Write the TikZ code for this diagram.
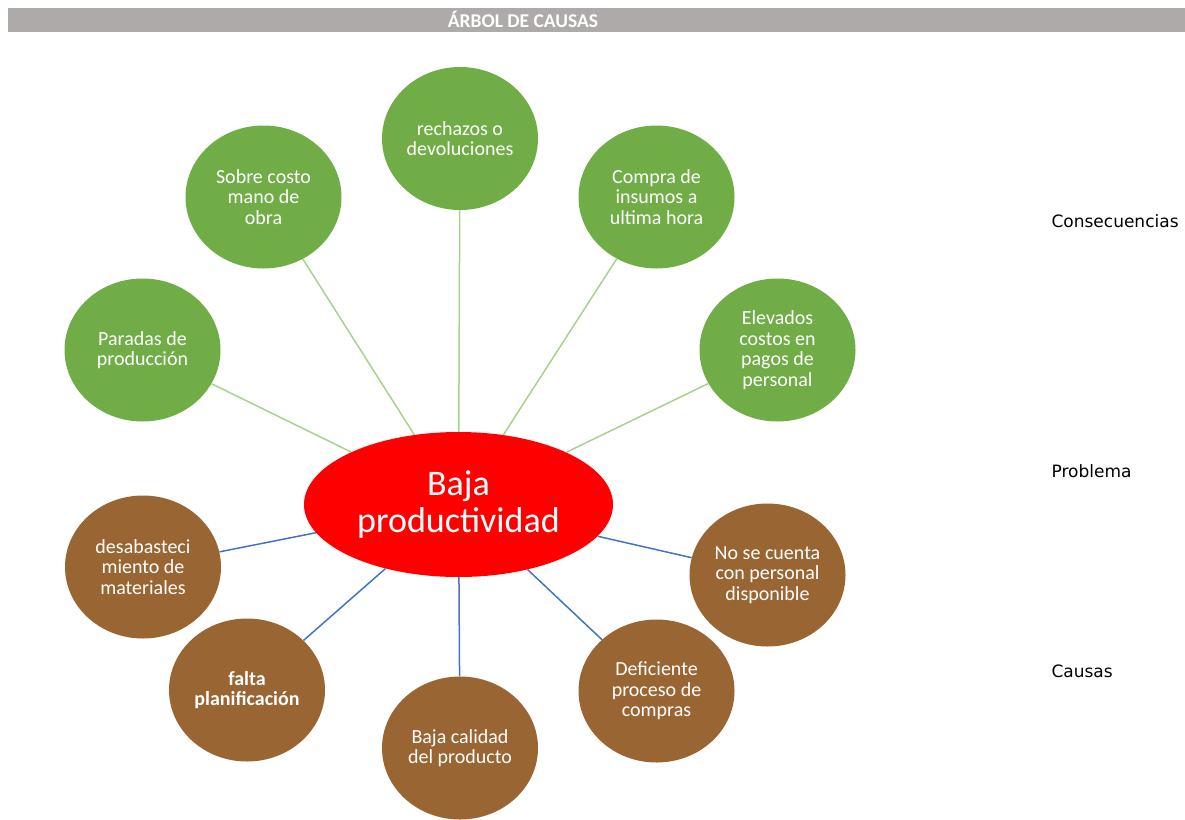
\documentclass[tikz,border=0pt]{standalone}
\usepackage{fontspec}
\setmainfont{Carlito}
\newfontfamily\labelfont{DejaVu Sans}
\usetikzlibrary{shapes.geometric}
\definecolor{bargray}{HTML}{AEAAAA}
\definecolor{consgreen}{HTML}{70AD47}
\definecolor{conslink}{HTML}{A9D18E}
\definecolor{causbrown}{HTML}{996633}
\definecolor{causlink}{HTML}{4472C4}

\begin{document}
\begin{tikzpicture}[x=1pt,y=-1pt,
        cons/.style={ellipse, fill=consgreen, minimum width=156pt, minimum height=143pt, inner sep=0pt,
            align=center, text=white, font=\fontsize{20}{20.5}\selectfont},
        caus/.style={cons, fill=causbrown},
        conslinea/.style={draw=conslink, line width=1.5pt},
        causlinea/.style={draw=causlink, line width=1.5pt},
        etiqueta/.style={anchor=west, font=\labelfont\fontsize{17}{19}\selectfont}]
        \useasboundingbox (0,0) rectangle (1185,819);

        \fill[bargray] (8,8) rectangle (1185,32);
        \node[text=white, font=\bfseries\fontsize{19.5}{20}\selectfont](TITLE) at (523,19.5){ÁRBOL DE CAUSAS};

        \node[ellipse, fill=red, minimum width=309pt, minimum height=145pt, inner sep=0pt, align=center,
            text=white, font=\fontsize{36}{37}\selectfont](PROB) at (458.5,504.5){Baja\\productividad};

        \node[cons](C1) at (142.5,350){Paradas de\\producción};
        \node[cons](C2) at (263.5,197){Sobre costo\\mano de\\obra};
        \node[cons](C3) at (460,138.5){rechazos o\\devoluciones};
        \node[cons](C4) at (656.5,197){Compra de\\insumos a\\ultima hora};
        \node[cons](C5) at (777.5,350){Elevados\\costos en\\pagos de\\personal};

        \node[caus](K1) at (143,567){desabasteci\\miento de\\materiales};
        \node[caus, font=\bfseries\fontsize{20}{20.5}\selectfont](K2) at (247,690){falta\\planificación};
        \node[caus](K3) at (460,748){Baja calidad\\del producto};
        \node[caus](K4) at (656.5,691){Deficiente\\proceso de\\compras};
        \node[caus](K5) at (767.5,575){No se cuenta\\con personal\\disponible};

        \foreach \c in {C1,C2,C3,C4,C5}
            \path[conslinea] (\c) -- (PROB);
        \foreach \k in {K1,K2,K3,K4,K5}
            \path[causlinea] (\k) -- (PROB);

        \node[etiqueta](CONS) at (1048,221){Consecuencias};
        \node[etiqueta](PROBL) at (1048,471){Problema};
        \node[etiqueta](CAUS) at (1048,671){Causas};
\end{tikzpicture}
\end{document}
